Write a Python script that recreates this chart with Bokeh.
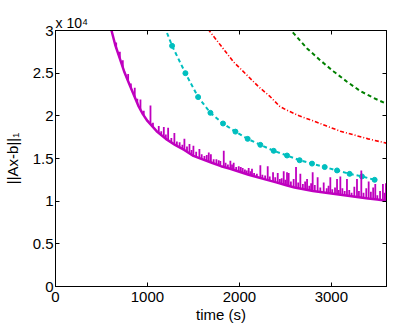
from bokeh.plotting import figure
from bokeh.models import Range1d, FixedTicker, LinearAxis
from bokeh.embed import file_html
from bokeh.resources import INLINE

# ---- data ----
x_ticks = [0, 1000, 2000, 3000]
y_ticks = [0, 5000, 10000, 15000, 20000, 25000, 30000]
y_tick_labels = ["0", "0.5", "1", "1.5", "2", "2.5", "3"]

# magenta: lower envelope of the noisy curve
mag_t = [580, 609, 650, 700, 750, 800, 850, 900, 950, 1000, 1100, 1200, 1300, 1400,
         1500, 1600, 1700, 1800, 1900, 2000, 2100, 2200, 2300, 2400, 2500, 2600,
         2700, 2800, 2900, 3000, 3100, 3200, 3300, 3400, 3500, 3600]
mag_v = [31300, 30000, 28300, 26700, 25100, 23800, 22500, 21200, 20200, 19400, 18200,
         17300, 16600, 16000, 15300, 14900, 14500, 14100, 13800, 13450, 13100, 12800,
         12500, 12200, 11900, 11600, 11400, 11200, 11050, 10900, 10750, 10600, 10450,
         10300, 10200, 10050]

# magenta: spikes above the envelope (time, bottom, top)
spike_t = [660, 700, 732, 790, 820, 862, 890, 924, 960, 1033, 1060, 1123, 1150, 1178,
           1200, 1225, 1260, 1293, 1320, 1350, 1380, 1402, 1430, 1457, 1480, 1500,
           1530, 1565, 1590, 1620, 1645, 1667, 1690, 1720, 1750, 1775, 1793, 1830,
           1850, 1875, 1902, 1920, 1938, 1965, 1993, 2015, 2036, 2060, 2080, 2101,
           2120, 2137, 2160, 2190, 2228, 2250, 2280, 2308, 2330, 2366, 2390, 2417,
           2440, 2460, 2482, 2500, 2518, 2536, 2560, 2590, 2616, 2640, 2663, 2690,
           2715, 2736, 2760, 2780, 2797, 2820, 2851, 2880, 2917, 2950, 2970, 2989,
           3010, 3040, 3062, 3080, 3098, 3120, 3145, 3170, 3195, 3220, 3250, 3279,
           3300, 3326, 3350, 3380, 3406, 3430, 3455, 3478, 3500, 3530, 3561, 3580, 3594]
spike_lo = [27900, 26700, 25700, 24100, 23300, 22200, 21500, 20800, 20100, 19000, 18700,
            18000, 17700, 17500, 17300, 17100, 16850, 16650, 16500, 16300, 16100, 16000,
            15800, 15600, 15450, 15300, 15200, 15050, 14950, 14850, 14750, 14650, 14550,
            14400, 14300, 14200, 14150, 14000, 13950, 13900, 13800, 13700, 13650, 13550,
            13450, 13400, 13300, 13250, 13150, 13100, 13050, 13000, 12900, 12800, 12700,
            12650, 12550, 12500, 12400, 12300, 12250, 12150, 12100, 12000, 11950, 11900,
            11850, 11800, 11700, 11600, 11550, 11500, 11450, 11400, 11350, 11300, 11250,
            11220, 11200, 11150, 11100, 11050, 11000, 10950, 10920, 10900, 10870, 10830,
            10800, 10780, 10750, 10720, 10680, 10650, 10600, 10580, 10550, 10500, 10450,
            10420, 10400, 10350, 10300, 10280, 10250, 10230, 10200, 10150, 10100, 10070, 10050]
spike_hi = [28600, 27500, 26500, 24900, 23800, 23300, 22000, 21900, 20600, 21200, 19200,
            18800, 18200, 18700, 17800, 18600, 17400, 18000, 17000, 16900, 16600, 17300,
            16400, 16700, 16000, 16500, 15800, 16100, 15500, 15300, 15400, 15700, 15500,
            14900, 14900, 14800, 14700, 15900, 14500, 14300, 14750, 14300, 14500, 14000,
            14100, 14000, 13900, 13700, 13600, 13900, 13500, 13800, 13300, 13200, 14200,
            13100, 13000, 14100, 12900, 13400, 12800, 13300, 12600, 12700, 13500, 12500,
            13400, 13300, 12300, 12600, 14000, 12200, 13200, 12000, 12300, 12600, 11800,
            12100, 13400, 11900, 12800, 11600, 12200, 11500, 11800, 12800, 11400, 11600,
            12600, 11300, 12900, 11500, 11200, 12600, 11300, 11000, 11700, 12600, 11200,
            13600, 11000, 11500, 12300, 11100, 11600, 12000, 10700, 11200, 12000, 11000, 12100]

# cyan dashed with dots
cy_t = [1130, 1268, 1413, 1551, 1685, 1822, 1957, 2090, 2228, 2373, 2518, 2655, 2790,
        2928, 3062, 3199, 3333, 3471]
cy_v = [32000, 28200, 25000, 22200, 20350, 19100, 18150, 17300, 16600, 15900, 15350,
        14800, 14400, 14000, 13600, 13200, 12900, 12500]

# red dash-dot
rd_t = [1600, 1685, 1800, 1938, 2070, 2210, 2330, 2440, 2500, 2650, 2808, 2950, 3098,
        3250, 3400, 3600]
rd_v = [31000, 29800, 28200, 26300, 24900, 23400, 22300, 21100, 20750, 20000, 19400,
        18800, 18200, 17750, 17300, 16800]

# green dashed
gr_t = [2480, 2562, 2736, 2880, 3025, 3170, 3315, 3460, 3600]
gr_v = [31000, 30000, 27900, 26500, 25200, 24000, 22900, 22100, 21400]

FONT = "Liberation Sans"

p = figure(width=403, height=325, x_range=Range1d(0, 3600), y_range=Range1d(0, 30000),
           output_backend="svg", toolbar_location=None,
           min_border_left=55, min_border_right=17, min_border_top=30, min_border_bottom=36,
           title="x 10\u2074")
p.grid.visible = False
p.outline_line_color = "black"
p.background_fill_color = "white"
p.border_fill_color = "white"

p.title.align = "left"
p.title.text_font = FONT
p.title.text_font_size = "14px"
p.title.text_font_style = "normal"
p.title.text_color = "black"
p.title.standoff = 0
p.title.offset = 0

xa = p.xaxis[0]
xa.ticker = FixedTicker(ticks=x_ticks)
xa.major_tick_in = 4
xa.major_tick_out = 0
xa.minor_tick_line_color = None
xa.major_label_standoff = 5
xa.major_label_text_font = FONT
xa.major_label_text_font_size = "15px"
xa.major_label_text_color = "black"
xa.axis_line_color = "black"
xa.axis_label = "time (s)"
xa.axis_label_standoff = 1
xa.axis_label_text_font = FONT
xa.axis_label_text_font_size = "15px"
xa.axis_label_text_font_style = "normal"
xa.axis_label_text_color = "black"

ya = p.yaxis[0]
ya.ticker = FixedTicker(ticks=y_ticks)
ya.major_label_overrides = {t: s for t, s in zip(y_ticks, y_tick_labels)}
ya.major_tick_in = 4
ya.major_tick_out = 0
ya.minor_tick_line_color = None
ya.major_label_standoff = 2
ya.major_label_text_font = FONT
ya.major_label_text_font_size = "15px"
ya.major_label_text_color = "black"
ya.axis_line_color = "black"
ya.axis_label = "||Ax-b||\u2081"
ya.axis_label_standoff = 9
ya.axis_label_text_font = FONT
ya.axis_label_text_font_size = "15px"
ya.axis_label_text_font_style = "normal"
ya.axis_label_text_color = "black"

top = LinearAxis(ticker=FixedTicker(ticks=x_ticks), major_tick_in=4, major_tick_out=0,
                 minor_tick_line_color=None, major_label_text_font_size="0px",
                 major_label_standoff=0, axis_line_color="black")
right = LinearAxis(ticker=FixedTicker(ticks=y_ticks), major_tick_in=4, major_tick_out=0,
                   minor_tick_line_color=None, major_label_text_font_size="0px",
                   major_label_standoff=0, axis_line_color="black")
p.add_layout(top, "above")
p.add_layout(right, "right")

# curves
p.line(gr_t, gr_v, line_color="#008000", line_width=2, line_dash="4 3")
p.line(rd_t, rd_v, line_color="#ff0000", line_width=1.6, line_dash="4 2 1 2")
p.line(cy_t, cy_v, line_color="#00bfbf", line_width=2, line_dash="4 3")
p.scatter(cy_t, cy_v, marker="circle", size=5, fill_color="#00bfbf", line_color="#00bfbf")
p.segment(x0=spike_t, y0=spike_lo, x1=spike_t, y1=spike_hi, line_color="#bf00bf",
          line_width=1.8)
p.line(mag_t, mag_v, line_color="#bf00bf", line_width=2.5)

open("out.html", "w").write(file_html(p, INLINE))
